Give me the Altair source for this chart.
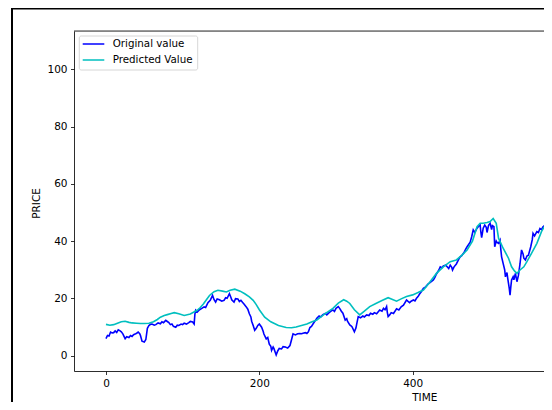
import altair as alt
import pandas as pd

series_names = ["Original value", "Predicted Value"]
series_colors = ["#0000ff", "#00bfbf"]

x_ticks = [0, 200, 400]
y_ticks = [0, 20, 40, 60, 80, 100]

orig_time = [0, 2, 4, 6, 8, 10, 12, 14, 16, 18, 20, 22, 25, 27, 30, 32, 34, 36, 38, 40,
             42, 44, 45, 47, 50, 52, 54, 56, 58, 60, 63, 65, 68, 71, 73, 75, 78, 80, 82, 84,
             86, 88, 91, 93, 95, 98, 100, 102, 105, 108, 110, 113, 115, 116, 117, 119, 122, 125, 128, 130,
             133, 136, 139, 141, 143, 145, 148, 151, 154, 156, 158, 161, 163, 164, 167, 169, 172, 174, 176, 178,
             180, 183, 185, 187, 189, 190, 192, 194, 196, 198, 200, 203, 205, 206, 209, 211, 213, 215, 216, 218,
             219, 222, 224, 226, 229, 231, 234, 237, 240, 242, 244, 247, 250, 253, 255, 258, 260, 262, 264, 266,
             268, 270, 273, 275, 278, 280, 283, 286, 288, 291, 294, 296, 298, 300, 303, 305, 307, 309, 312, 314,
             315, 318, 320, 321, 324, 326, 327, 329, 332, 335, 337, 340, 343, 345, 348, 350, 353, 357, 360, 362,
             364, 366, 367, 368, 370, 372, 375, 379, 382, 385, 388, 392, 394, 396, 398, 401, 403, 405, 407, 409,
             411, 414, 417, 420, 423, 427, 429, 431, 434, 436, 438, 440, 443, 445, 447, 449, 451, 452, 454, 457,
             460, 462, 464, 467, 469, 471, 473, 475, 477, 479, 481, 484, 486, 488, 489, 490, 492, 494, 496, 497,
             499, 501, 503, 504, 506, 507, 509, 510, 512, 514, 515, 516, 518, 520, 521, 523, 524, 525, 526, 527,
             528, 529, 531, 532, 534, 536, 538, 540, 542, 544, 545, 547, 549, 551, 554, 556, 557, 559, 562, 564,
             566, 568, 570, 573, 578]
orig_value = [5.9, 7.0, 6.8, 8.2, 7.9, 8.0, 8.6, 8.1, 9.0, 8.7, 8.3, 7.6, 5.9, 6.6, 6.3, 7.0, 6.7, 7.3, 7.5, 7.8,
              8.2, 7.6, 7.0, 5.0, 4.7, 5.6, 9.5, 10.5, 10.9, 11.0, 10.6, 10.8, 11.4, 11.1, 11.8, 11.5, 12.3, 11.9, 11.5, 10.8,
              11.0, 10.2, 9.9, 10.6, 10.5, 11.0, 10.8, 11.3, 11.0, 11.5, 11.9, 11.7, 11.0, 14.5, 15.8, 15.2, 16.0, 16.5, 17.0, 16.8,
              18.5, 19.3, 21.0, 19.5, 18.7, 19.8, 19.5, 19.0, 19.3, 20.2, 20.0, 21.6, 20.3, 19.5, 18.7, 19.9, 19.8, 18.9, 19.3, 18.6,
              18.0, 17.0, 16.2, 14.6, 13.5, 12.0, 10.5, 8.8, 9.5, 10.5, 11.0, 9.9, 8.5, 7.5, 5.8, 6.3, 4.0, 3.2, 1.8, 3.0,
              2.5, 0.2, 1.6, 2.5, 2.3, 3.1, 3.0, 2.6, 3.5, 5.5, 7.6, 7.2, 7.6, 7.7, 7.6, 7.9, 8.0, 7.7, 8.3, 9.8,
              10.2, 11.0, 12.2, 13.0, 13.8, 13.5, 14.3, 14.7, 14.2, 15.0, 15.6, 15.9, 15.4, 16.5, 17.1, 16.4, 15.5, 14.8, 12.4, 12.9,
              12.0, 10.7, 10.3, 10.0, 8.3, 9.6, 11.0, 13.6, 13.2, 13.8, 13.5, 14.2, 14.0, 14.8, 14.4, 15.0, 14.6, 15.9, 15.5, 16.5,
              16.0, 17.1, 15.0, 13.6, 14.2, 15.0, 14.7, 16.3, 15.9, 17.0, 17.6, 19.4, 18.9, 18.5, 19.0, 19.4, 19.1, 20.0, 20.6, 21.5,
              22.2, 23.5, 24.0, 25.0, 25.6, 26.4, 27.3, 28.5, 29.8, 31.0, 30.7, 31.3, 31.6, 31.0, 30.4, 31.6, 30.8, 29.9, 31.0, 32.0,
              33.6, 34.5, 34.9, 36.0, 37.1, 38.0, 38.8, 39.6, 41.5, 43.9, 43.0, 44.5, 45.2, 45.6, 43.0, 41.2, 44.5, 45.6, 44.8, 43.0,
              45.5, 46.2, 44.0, 45.4, 45.0, 38.0, 40.0, 39.5, 39.2, 40.3, 37.0, 34.5, 32.2, 30.0, 27.5, 29.0, 27.0, 25.2, 23.5, 21.1,
              24.0, 26.4, 27.5, 26.5, 28.7, 25.8, 28.1, 32.0, 36.9, 35.5, 34.0, 33.4, 34.8, 35.1, 38.0, 40.5, 42.7, 41.8, 43.3, 43.0,
              44.4, 44.0, 45.0, 45.6, 45.2]

pred_time = [0, 5, 10, 15, 20, 25, 30, 34, 40, 45, 50, 56, 62, 67, 71, 76, 80, 85, 89, 95,
             102, 110, 119, 123, 127, 131, 135, 141, 146, 152, 157, 162, 168, 175, 181, 187, 192, 196, 200, 207,
             215, 225, 235, 242, 248, 255, 262, 268, 275, 285, 296, 303, 310, 314, 318, 324, 331, 337, 344, 352,
             360, 368, 373, 379, 385, 392, 400, 407, 414, 422, 431, 440, 449, 457, 464, 471, 478, 484, 488, 492,
             497, 501, 505, 509, 512, 518, 525, 529, 533, 536, 540, 545, 549, 555, 562, 568, 573, 578]
pred_value = [10.9, 10.6, 10.8, 11.3, 11.8, 12.0, 11.6, 11.4, 11.3, 11.2, 11.2, 11.3, 11.8, 12.6, 13.4, 14.0, 14.3, 14.7, 15.0, 14.6,
              14.0, 14.5, 15.8, 16.8, 18.0, 19.5, 21.0, 22.3, 22.8, 22.5, 22.2, 22.8, 23.2, 22.5, 21.6, 20.5, 19.3, 17.8, 16.0, 13.4,
              11.8, 10.5, 9.8, 9.7, 10.0, 10.5, 11.0, 11.7, 12.4, 14.5, 16.5, 18.3, 19.5, 19.0, 18.2, 16.0, 14.2, 15.5, 17.1, 18.2,
              19.2, 20.2, 19.7, 19.0, 19.8, 20.6, 21.2, 22.0, 22.9, 25.5, 28.7, 31.0, 32.8, 33.4, 35.0, 36.9, 40.0, 45.0, 46.2, 46.2,
              46.5, 46.8, 47.9, 46.2, 41.0, 37.5, 34.0, 31.0, 29.5, 28.7, 29.9, 31.0, 32.8, 35.7, 39.2, 43.3, 45.6, 46.5]

W, H = 470, 340
FONT = "DejaVu Sans"

df_o = pd.DataFrame({"time": orig_time, "value": orig_value})
df_p = pd.DataFrame({"time": pred_time, "value": pred_value})

xscale = alt.Scale(domain=[-41.7, 571.3], nice=False, zero=False)
yscale = alt.Scale(domain=[-5.4, 113.4], nice=False, zero=False)

xaxis = alt.Axis(values=x_ticks, title="TIME", grid=False, tickSize=3.5, tickWidth=0.8,
                 tickColor="#000000", domainColor="#000000", domainWidth=0.8,
                 labelFontSize=10.5, labelFont=FONT, labelColor="#000000", labelPadding=3.5,
                 labelFlush=False, titleFont=FONT, titleFontSize=10.5, titleFontWeight="normal",
                 titleColor="#000000", titleX=350.3, titleY=26, titleBaseline="middle", titleAlign="center")
yaxis = alt.Axis(values=y_ticks, title="PRICE", grid=False, tickSize=3.5, tickWidth=0.8,
                 tickColor="#000000", domainColor="#000000", domainWidth=0.8,
                 labelFontSize=10.5, labelFont=FONT, labelColor="#000000", labelPadding=3.5,
                 titleFont=FONT, titleFontSize=10.5, titleFontWeight="normal", titleColor="#000000",
                 titleX=-37.3, titleY=172, titleAngle=270, titleBaseline="middle", titleAlign="center")

line_o = alt.Chart(df_o).mark_line(color=series_colors[0], strokeWidth=1.6, clip=True).encode(
    x=alt.X("time:Q", scale=xscale, axis=xaxis),
    y=alt.Y("value:Q", scale=yscale, axis=yaxis),
)
line_p = alt.Chart(df_p).mark_line(color=series_colors[1], strokeWidth=1.6, clip=True).encode(
    x=alt.X("time:Q", scale=xscale),
    y=alt.Y("value:Q", scale=yscale),
)

one = pd.DataFrame({"a": [0]})
top_spine = alt.Chart(one).mark_rule(color="#000000", strokeWidth=0.8).encode(
    x=alt.value(0), x2=alt.value(W), y=alt.value(0))
frame_top = alt.Chart(one).mark_rule(color="#000000", strokeWidth=2).encode(
    x=alt.value(-63), x2=alt.value(W + 10), y=alt.value(-22.5))
frame_left = alt.Chart(one).mark_rule(color="#000000", strokeWidth=2).encode(
    x=alt.value(-62), y=alt.value(-23), y2=alt.value(H + 40))

legend_box = alt.Chart(one).mark_rect(fill="#ffffff", fillOpacity=0.8, stroke="#cccccc",
                                      strokeWidth=0.8, cornerRadius=2).encode(
    x=alt.value(5.3), x2=alt.value(123.7), y=alt.value(5), y2=alt.value(39))

legend_layers = []
for i, (name, col) in enumerate(zip(series_names, series_colors)):
    yy = 13 + 16 * i
    legend_layers.append(alt.Chart(one).mark_rule(color=col, strokeWidth=1.5).encode(
        x=alt.value(8.7), x2=alt.value(30.3), y=alt.value(yy)))
    legend_layers.append(alt.Chart(pd.DataFrame({"label": [name]})).mark_text(
        align="left", baseline="middle", font=FONT, fontSize=10.3, color="#000000").encode(
        x=alt.value(38.7), y=alt.value(yy), text="label:N"))

chart = alt.layer(line_o, line_p, top_spine, legend_box, *legend_layers, frame_top, frame_left).properties(
    width=W, height=H,
    autosize=alt.AutoSizeParams(type="none"),
    padding={"left": 66, "top": 23, "right": 0, "bottom": 31},
).configure_view(stroke=None).configure(background="#ffffff")

chart.save("out.html", embed_options={"renderer": "svg", "actions": False})
